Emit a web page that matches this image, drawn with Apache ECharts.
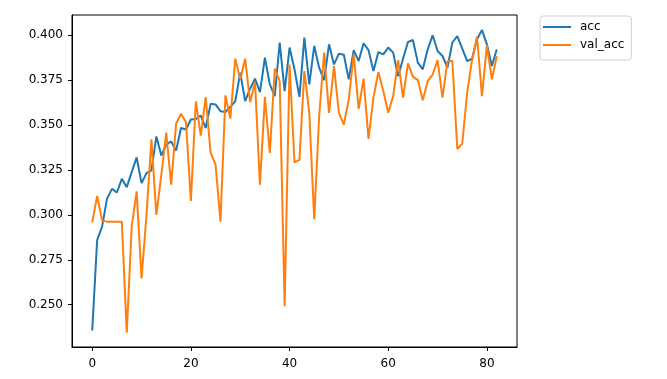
<!DOCTYPE html>
<html>
<head>
<meta charset="utf-8">
<script src="https://cdn.jsdelivr.net/npm/echarts@6/dist/echarts.min.js"></script>
<style>
  html, body { margin: 0; padding: 0; background: #fff; }
  #chart { width: 667px; height: 379px; }
</style>
</head>
<body>
<div id="chart"></div>
<script>
// values, one per epoch (0..82)
const acc = [
  0.2357, 0.2860, 0.2934, 0.3090, 0.3144, 0.3124, 0.3200, 0.3154, 0.3237, 0.3319,
  0.3176, 0.3232, 0.3247, 0.3436, 0.3330, 0.3390, 0.3408, 0.3358, 0.3483, 0.3474,
  0.3530, 0.3533, 0.3552, 0.3483, 0.3617, 0.3614, 0.3576, 0.3572, 0.3600, 0.3632,
  0.3790, 0.3632, 0.3701, 0.3757, 0.3682, 0.3874, 0.3725, 0.3660, 0.3958, 0.3688,
  0.3930, 0.3809, 0.3656, 0.3985, 0.3725, 0.3939, 0.3818, 0.3749, 0.3948, 0.3836,
  0.3896, 0.3890, 0.3753, 0.3916, 0.3855, 0.3954, 0.3916, 0.3799, 0.3905, 0.3892,
  0.3930, 0.3902, 0.3771, 0.3868, 0.3961, 0.3972, 0.3846, 0.3809, 0.3920, 0.3998,
  0.3911, 0.3883, 0.3818, 0.3958, 0.3994, 0.3924, 0.3855, 0.3868, 0.3976, 0.4028,
  0.3948, 0.3827, 0.3920
]
const valAcc = [
  0.2958, 0.3105, 0.2968, 0.2962, 0.2962, 0.2962, 0.2962, 0.2345, 0.2934, 0.3130,
  0.2646, 0.3000, 0.3420, 0.3000, 0.3220, 0.3457, 0.3167, 0.3506, 0.3562, 0.3516,
  0.3077, 0.3630, 0.3440, 0.3655, 0.3344, 0.3279, 0.2962, 0.3664, 0.3535, 0.3868,
  0.3753, 0.3868, 0.3626, 0.3738, 0.3167, 0.3656, 0.3344, 0.3813, 0.3743, 0.2492,
  0.3836, 0.3291, 0.3306, 0.3799, 0.3567, 0.2975, 0.3548, 0.3902, 0.3567, 0.3827,
  0.3567, 0.3502, 0.3641, 0.3892, 0.3589, 0.3757, 0.3422, 0.3651, 0.3794, 0.3688,
  0.3567, 0.3660, 0.3860, 0.3651, 0.3842, 0.3768, 0.3749, 0.3637, 0.3743, 0.3780,
  0.3860, 0.3651, 0.3855, 0.3855, 0.3366, 0.3396, 0.3679, 0.3864, 0.3991, 0.3660,
  0.3943, 0.3753, 0.3883
]
const xTicks = [0, 20, 40, 60, 80]
const yTicks = [0.25, 0.275, 0.3, 0.325, 0.35, 0.375, 0.4]

const font = 'DejaVu Sans'
const chart = echarts.init(document.getElementById('chart'))

chart.setOption({
  animation: false,
  textStyle: { fontFamily: font },
  grid: {
    left: 72,
    right: 150,
    top: 15,
    bottom: 32,
    show: true,
    borderColor: '#000',
    borderWidth: 1
  },
  legend: {
    orient: 'vertical',
    left: 540,
    top: 16,
    icon: 'rect',
    itemWidth: 28,
    itemHeight: 2,
    itemGap: 4,
    padding: [4, 7, 8, 3],
    borderColor: '#d0d0d0',
    borderWidth: 1,
    borderRadius: 3,
    backgroundColor: '#fff',
    textStyle: { fontFamily: font, fontSize: 12, color: '#000', lineHeight: 14, padding: [0, 0, 0, 4] },
    data: ['acc', 'val_acc']
  },
  xAxis: {
    type: 'value',
    min: -4.1,
    max: 86.1,
    splitLine: { show: false },
    axisLine: { show: true, onZero: false, lineStyle: { color: '#000', width: 1 } },
    axisTick: { show: true, length: 4, customValues: xTicks, lineStyle: { color: '#000' } },
    axisLabel: { customValues: xTicks, margin: 11, fontFamily: font, fontSize: 12, color: '#000' }
  },
  yAxis: {
    type: 'value',
    min: 0.2265,
    max: 0.4111,
    splitLine: { show: false },
    axisLine: { show: true, onZero: false, lineStyle: { color: '#000', width: 1 } },
    axisTick: { show: true, length: 4, customValues: yTicks, lineStyle: { color: '#000' } },
    axisLabel: {
      customValues: yTicks,
      margin: 9,
      fontFamily: font,
      fontSize: 12,
      color: '#000',
      formatter: v => v.toFixed(3)
    }
  },
  series: [{
    name: 'acc',
    type: 'line',
    symbol: 'none',
    color: '#1f77b4',
    lineStyle: { width: 2 },
    data: acc.map((v, i) => [i, v])
  }, {
    name: 'val_acc',
    type: 'line',
    symbol: 'none',
    color: '#ff7f0e',
    lineStyle: { width: 2 },
    data: valAcc.map((v, i) => [i, v])
  }]
})
</script>
</body>
</html>
